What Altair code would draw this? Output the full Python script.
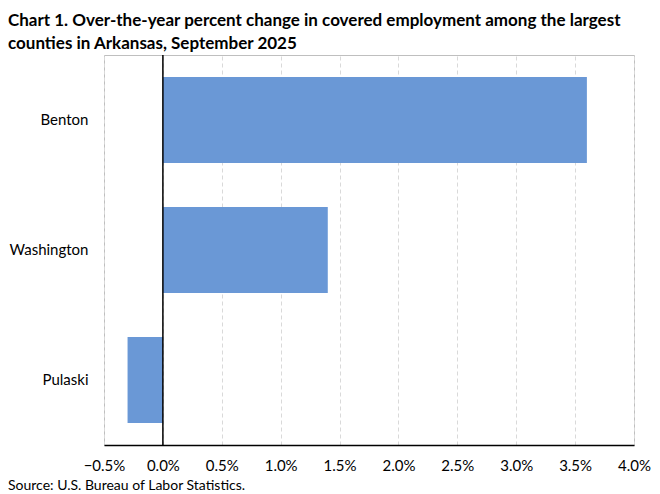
import altair as alt
import pandas as pd

counties = ["Benton", "Washington", "Pulaski"]
changes = [3.6, 1.4, -0.3]
x_ticks = [-0.5, 0.0, 0.5, 1.0, 1.5, 2.0, 2.5, 3.0, 3.5, 4.0]
title_lines = ["Chart 1. Over-the-year percent change in covered employment among the largest",
               "counties in Arkansas, September 2025"]
source_text = "Source: U.S. Bureau of Labor Statistics."

df = pd.DataFrame({"county": counties, "change": changes})
FONT = "Lato"
W, H = 530, 390

x_scale = alt.Scale(domain=[-0.5, 4.0], nice=False, zero=False)

bars = alt.Chart(df).mark_bar(color="#6a98d6").encode(
    x=alt.X("change:Q", scale=x_scale,
            axis=alt.Axis(values=x_ticks, title=None, grid=True, gridDash=[4, 3],
                          gridColor="#d9d9d9", ticks=False, domain=True,
                          domainColor="#000000", domainWidth=1.5,
                          labelFlush=False, labelOverlap=False, labelBound=False,
                          labelExpr="format(datum.value, '.1f') + '%'",
                          labelFont=FONT, labelFontSize=15, labelColor="#000000",
                          labelPadding=13)),
    y=alt.Y("county:N", sort=counties,
            scale=alt.Scale(paddingInner=0.34, paddingOuter=0.17),
            axis=alt.Axis(title=None, ticks=False, domain=False, labelFont=FONT,
                          labelFontSize=15, labelColor="#000000", labelPadding=16)),
)

zero = alt.Chart(pd.DataFrame({"z": [0.0]})).mark_rule(color="#000000", strokeWidth=1.5).encode(
    x=alt.X("z:Q", scale=x_scale)
)

source = alt.Chart(pd.DataFrame({"t": [source_text]})).mark_text(
    align="left", baseline="middle", font=FONT, fontSize=14, color="#000000"
).encode(x=alt.value(-96), y=alt.value(H + 41), text="t:N")

chart = alt.layer(bars, zero, source).properties(
    width=W, height=H,
    autosize=alt.AutoSizeParams(type="none"),
    padding={"left": 96, "top": 47, "right": 18, "bottom": 49},
    title=alt.TitleParams(title_lines, anchor="start", font=FONT, fontSize=17,
                          fontWeight="bold", color="#000000", dx=-96, offset=1,
                          lineHeight=23, frame="group"),
).configure_view(stroke="#bfbfbf", strokeWidth=1)

chart.save("out.html", embed_options={"renderer": "svg", "actions": False})
